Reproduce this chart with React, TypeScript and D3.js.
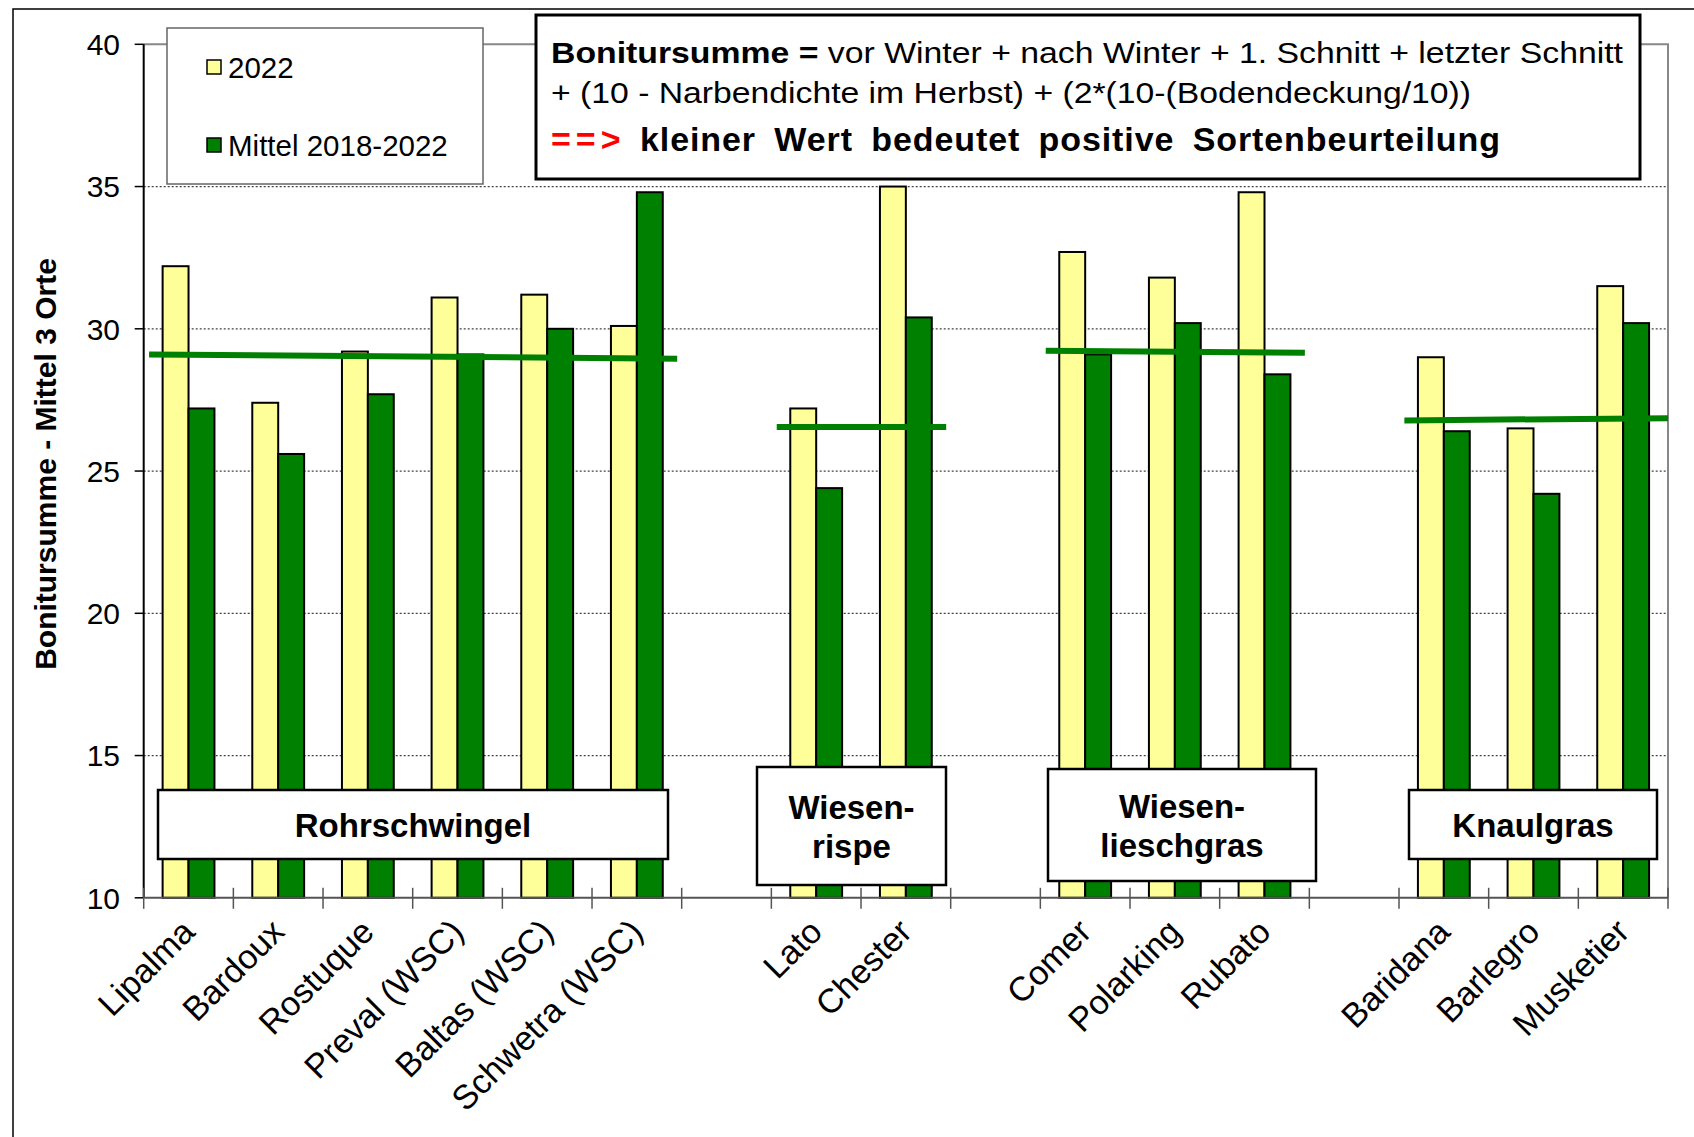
import React, { useEffect, useRef } from 'react';
import * as d3 from 'd3';

// varieties along the x axis, empty strings are the gaps between the species groups
const varieties = [
  'Lipalma', 'Bardoux', 'Rostuque', 'Preval (WSC)', 'Baltas (WSC)', 'Schwetra (WSC)', '',
  'Lato', 'Chester', '',
  'Comer', 'Polarking', 'Rubato', '',
  'Baridana', 'Barlegro', 'Musketier',
];
const values2022 = [32.2, 27.4, 29.2, 31.1, 31.2, 30.1, null, 27.2, 35.0, null, 32.7, 31.8, 34.8, null, 29.0, 26.5, 31.5];
const valuesMittel = [27.2, 25.6, 27.7, 29.1, 30.0, 34.8, null, 24.4, 30.4, null, 29.1, 30.2, 28.4, null, 26.4, 24.2, 30.2];
const seriesNames = ['2022', 'Mittel 2018-2022'];

// species groups with the mean line (start / end value of the drawn line)
const groupLabels = [['Rohrschwingel'], ['Wiesen-', 'rispe'], ['Wiesen-', 'lieschgras'], ['Knaulgras']];
const groupFirst = [0, 7, 10, 14];
const groupLast = [5, 8, 12, 16];
const meanStart = [29.1, 26.55, 29.23, 26.78];
const meanEnd = [28.95, 26.55, 29.16, 26.86];

const yTicks = [10, 15, 20, 25, 30, 35, 40];

const W = 1694;
const H = 1137;
const FONT = '"Liberation Sans", Arial, sans-serif';
const YELLOW = '#ffff99';
const GREEN = '#008000';

// label box placement (pixels)
const groupBoxes = [
  { x: 158, y: 790, w: 510, h: 69 },
  { x: 757, y: 767, w: 189, h: 118 },
  { x: 1048, y: 769, w: 268, h: 112 },
  { x: 1409, y: 790, w: 248, h: 69 },
];

const App: React.FC = () => {
  const ref = useRef<SVGSVGElement>(null);

  useEffect(() => {
    const svg = d3.select(ref.current);
    svg.selectAll('*').remove();

    const left = 143.7;
    const right = 1668;
    const top = 44.3;
    const bottom = 897.8;

    const y = d3.scaleLinear().domain([10, 40]).range([bottom, top]);
    const x0 = d3.scaleBand<number>()
      .domain(d3.range(varieties.length))
      .range([left, right])
      .padding(0);
    const x1 = d3.scaleBand<string>()
      .domain(['a', 'b'])
      .range([0, x0.bandwidth()])
      .paddingInner(0)
      .paddingOuter(0.73);
    const xc = d3.scaleLinear().domain([0, varieties.length]).range([left, right]);

    // outer frame
    svg.append('rect')
      .attr('x', 13).attr('y', 9).attr('width', W).attr('height', H)
      .attr('fill', 'none').attr('stroke', '#000').attr('stroke-width', 1.5);

    // gridlines
    svg.append('g')
      .selectAll('line')
      .data(yTicks.filter(t => t > 10 && t < 40))
      .join('line')
      .attr('x1', left).attr('x2', right)
      .attr('y1', d => y(d)).attr('y2', d => y(d))
      .attr('stroke', '#444').attr('stroke-width', 1.2)
      .attr('stroke-dasharray', '2,2');

    // plot area border (top + right)
    svg.append('path')
      .attr('d', `M${left},${top}H${right}V${bottom}`)
      .attr('fill', 'none').attr('stroke', '#888').attr('stroke-width', 2);

    // bars
    const bars = svg.append('g');
    varieties.forEach((_, i) => {
      const pair = [values2022[i], valuesMittel[i]];
      pair.forEach((v, k) => {
        if (v == null) return;
        bars.append('rect')
          .attr('x', (x0(i) ?? 0) + (x1(k === 0 ? 'a' : 'b') ?? 0))
          .attr('y', y(v))
          .attr('width', x1.bandwidth())
          .attr('height', bottom - y(v))
          .attr('fill', k === 0 ? YELLOW : GREEN)
          .attr('stroke', '#000')
          .attr('stroke-width', 2);
      });
    });

    // mean lines
    const line = d3.line<[number, number]>().x(d => xc(d[0])).y(d => y(d[1]));
    groupFirst.forEach((f, g) => {
      const endPos = g === groupFirst.length - 1 ? groupLast[g] + 1 : groupLast[g] + 0.95;
      svg.append('path')
        .attr('d', line([[f + 0.06, meanStart[g]], [endPos, meanEnd[g]]]))
        .attr('stroke', GREEN).attr('stroke-width', 6).attr('fill', 'none');
    });

    // y axis
    svg.append('line')
      .attr('x1', left).attr('x2', left).attr('y1', top).attr('y2', bottom)
      .attr('stroke', '#000').attr('stroke-width', 2);
    const yt = svg.append('g');
    yTicks.forEach(t => {
      yt.append('line')
        .attr('x1', left - 9).attr('x2', left).attr('y1', y(t)).attr('y2', y(t))
        .attr('stroke', '#000').attr('stroke-width', 1.5);
      yt.append('text')
        .attr('x', 120).attr('y', y(t)).attr('dy', '0.36em')
        .attr('text-anchor', 'end')
        .attr('font-family', FONT).attr('font-size', 30)
        .text(t);
    });

    // x axis
    svg.append('line')
      .attr('x1', left).attr('x2', right).attr('y1', bottom).attr('y2', bottom)
      .attr('stroke', '#555').attr('stroke-width', 2);
    svg.append('g')
      .selectAll('line')
      .data(d3.range(varieties.length + 1))
      .join('line')
      .attr('x1', d => xc(d)).attr('x2', d => xc(d))
      .attr('y1', bottom - 10).attr('y2', bottom + 11)
      .attr('stroke', '#555').attr('stroke-width', 1.5);
    svg.append('g')
      .selectAll('text')
      .data(varieties.map((name, i) => ({ name, i })).filter(d => d.name !== ''))
      .join('text')
      .attr('transform', d => `translate(${(x0(d.i) ?? 0) + x0.bandwidth() / 2 + 8},${bottom + 36}) rotate(-45)`)
      .attr('text-anchor', 'end')
      .attr('font-family', FONT).attr('font-size', 34)
      .text(d => d.name);

    // y axis title
    svg.append('text')
      .attr('transform', `translate(56,${(253 + 675) / 2}) rotate(-90)`)
      .attr('text-anchor', 'middle')
      .attr('font-family', FONT).attr('font-size', 30).attr('font-weight', 'bold')
      .text('Bonitursumme - Mittel 3 Orte');

    // group label boxes
    groupBoxes.forEach((b, g) => {
      svg.append('rect')
        .attr('x', b.x).attr('y', b.y).attr('width', b.w).attr('height', b.h)
        .attr('fill', '#fff').attr('stroke', '#000').attr('stroke-width', 2.5);
      const lines = groupLabels[g];
      const cy = b.y + b.h / 2;
      lines.forEach((t, k) => {
        svg.append('text')
          .attr('x', b.x + b.w / 2)
          .attr('y', cy + (k - (lines.length - 1) / 2) * 39 + 12)
          .attr('text-anchor', 'middle')
          .attr('font-family', FONT).attr('font-size', 33).attr('font-weight', 'bold')
          .text(t);
      });
    });

    // legend
    const lg = svg.append('g');
    lg.append('rect')
      .attr('x', 167).attr('y', 28).attr('width', 316).attr('height', 156)
      .attr('fill', '#fff').attr('stroke', '#666').attr('stroke-width', 1.5);
    seriesNames.forEach((s, k) => {
      const cy = k === 0 ? 67 : 145;
      lg.append('rect')
        .attr('x', 207).attr('y', cy - 7).attr('width', 14).attr('height', 14)
        .attr('fill', k === 0 ? YELLOW : GREEN).attr('stroke', '#000').attr('stroke-width', 1.5);
      lg.append('text')
        .attr('x', 228).attr('y', cy).attr('dy', '0.36em')
        .attr('font-family', FONT).attr('font-size', 29.5)
        .text(s);
    });

    // formula box
    const nb = svg.append('g');
    nb.append('rect')
      .attr('x', 536).attr('y', 15).attr('width', 1104).attr('height', 164)
      .attr('fill', '#fff').attr('stroke', '#000').attr('stroke-width', 3);
    const l1 = nb.append('text')
      .attr('x', 551).attr('y', 63)
      .attr('font-family', FONT).attr('font-size', 30)
      .attr('textLength', 1072).attr('lengthAdjust', 'spacingAndGlyphs');
    l1.append('tspan').attr('font-weight', 'bold').text('Bonitursumme =');
    l1.append('tspan').text(' vor Winter + nach Winter + 1. Schnitt + letzter Schnitt');
    nb.append('text')
      .attr('x', 551).attr('y', 103)
      .attr('font-family', FONT).attr('font-size', 30)
      .attr('textLength', 920).attr('lengthAdjust', 'spacingAndGlyphs')
      .text('+ (10 - Narbendichte im Herbst) + (2*(10-(Bodendeckung/10))');
    const l3 = nb.append('text')
      .attr('x', 551).attr('y', 151)
      .attr('font-family', FONT).attr('font-size', 34).attr('font-weight', 'bold');
    l3.append('tspan').attr('fill', '#ff0000').attr('letter-spacing', 5).text('==>');
    l3.append('tspan').attr('x', 640).attr('textLength', 860).attr('lengthAdjust', 'spacing')
      .attr('word-spacing', 8)
      .text('kleiner Wert bedeutet positive Sortenbeurteilung');
  }, []);

  return (
    <svg
      ref={ref}
      width={W}
      height={H}
      style={{ position: 'absolute', left: 0, top: 0, background: '#fff' }}
    />
  );
};

export default App;
